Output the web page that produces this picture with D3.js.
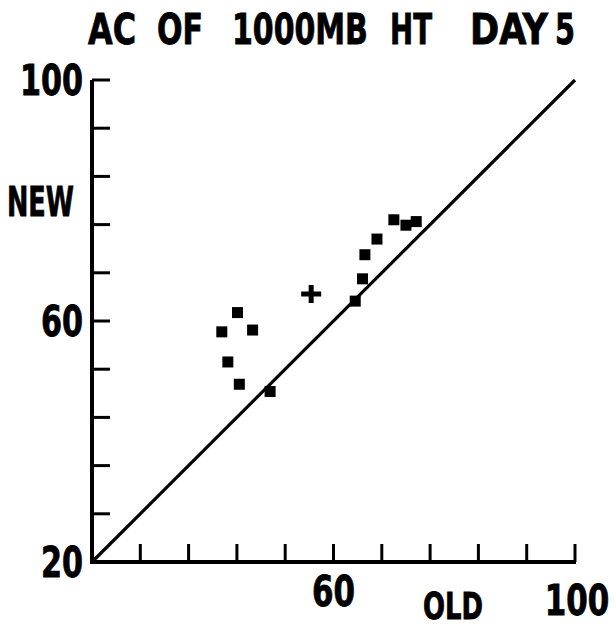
<!DOCTYPE html>
<html>
<head>
<meta charset="utf-8">
<script src="https://cdn.jsdelivr.net/npm/d3@7"></script>
<style>
  html, body { margin: 0; padding: 0; background: #fff; }
  svg { display: block; }
  text { font-family: "DejaVu Sans Condensed", "DejaVu Sans", sans-serif; font-weight: bold; fill: #000; stroke: #000; stroke-width: 0.8; }
</style>
</head>
<body>
<svg id="chart" width="616" height="629"></svg>
<script>
// AC of 1000mb height, day 5 : old vs new
const oldVals = [41.5, 44.1, 46.6, 42.5, 44.4, 49.5, 63.6, 64.8, 65.2, 67.2, 70.0, 72.0, 73.7];
const newVals = [58.2, 61.4, 58.5, 53.2, 49.5, 48.3, 63.3, 67.0, 71.0, 73.6, 76.8, 75.9, 76.5];
const plusOld = [56.3];
const plusNew = [64.5];
const tickVals = [20, 28, 36, 44, 52, 60, 68, 76, 84, 92, 100];
const yTickLabels = [100, 60, 20];
const xTickLabels = [60, 100];

const svg = d3.select('#chart');
const x = d3.scaleLinear().domain([20, 100]).range([92, 575]);
const y = d3.scaleLinear().domain([20, 100]).range([562, 80]);

// squeeze a label into a box [x0, x0+w] (plotter letters are narrow)
function label(str, x0, w, base, size) {
  const t = svg.append('text')
    .attr('x', 0).attr('y', 0)
    .attr('font-size', size)
    .text(str);
  const k = w / t.node().getComputedTextLength();
  t.attr('transform', `translate(${x0},${base}) scale(${k},1)`);
  return t;
}

// title, word by word
const titleWords = [
  { t: 'AC', x0: 88, x1: 136 },
  { t: 'OF', x0: 157, x1: 203 },
  { t: '1000MB', x0: 232, x1: 368 },
  { t: 'HT', x0: 390, x1: 432 },
  { t: 'DAY', x0: 470, x1: 548 },
  { t: '5', x0: 555, x1: 575 }
];
titleWords.forEach(d => label(d.t, d.x0, d.x1 - d.x0, 44, 42));

// axes
const g = svg.append('g');
g.append('line')
  .attr('x1', x(20)).attr('x2', x(20))
  .attr('y1', y(100)).attr('y2', y(20) + 2)
  .attr('stroke', '#000').attr('stroke-width', 4);
g.append('line')
  .attr('x1', x(20) - 2).attr('x2', x(100) + 1)
  .attr('y1', y(20)).attr('y2', y(20))
  .attr('stroke', '#000').attr('stroke-width', 4);

g.selectAll('.ytick')
  .data(tickVals.filter(v => v > 20))
  .enter().append('line')
  .attr('x1', x(20)).attr('x2', x(20) + 18)
  .attr('y1', d => y(d)).attr('y2', d => y(d))
  .attr('stroke', '#000').attr('stroke-width', 3);

g.selectAll('.xtick')
  .data(tickVals.filter(v => v > 20))
  .enter().append('line')
  .attr('x1', d => x(d)).attr('x2', d => x(d))
  .attr('y1', y(20)).attr('y2', y(20) - 18)
  .attr('stroke', '#000').attr('stroke-width', 3);

// diagonal
g.append('line')
  .attr('x1', x(20)).attr('y1', y(20))
  .attr('x2', x(100)).attr('y2', y(100))
  .attr('stroke', '#000').attr('stroke-width', 3.2);

// y labels (right edge at 83)
yTickLabels.forEach(v => {
  const w = String(v).length * 21;
  label(String(v), 83 - w, w, y(v) + 15, 42);
});
label('NEW', 7, 67, 216, 41);

// x labels
xTickLabels.forEach(v => {
  const w = String(v).length * 21.5;
  const cx = v === 100 ? x(v) + 2 : x(v);
  label(String(v), cx - w / 2, w, v === 100 ? 615 : 606, 42);
});
label('OLD', 423, 60, 619, 38);

// points
const pts = oldVals.map((v, i) => ({ o: v, n: newVals[i] }));
const s = 11;
svg.selectAll('.pt')
  .data(pts)
  .enter().append('rect')
  .attr('x', d => x(d.o) - s / 2)
  .attr('y', d => y(d.n) - s / 2)
  .attr('width', s).attr('height', s)
  .attr('fill', '#000');

const plus = plusOld.map((v, i) => ({ o: v, n: plusNew[i] }));
svg.selectAll('.plus')
  .data(plus)
  .enter().append('path')
  .attr('d', d => {
    const cx = x(d.o), cy = y(d.n);
    return `M${cx - 10},${cy}H${cx + 10}M${cx},${cy - 9}V${cy + 9}`;
  })
  .attr('stroke', '#000').attr('stroke-width', 5)
  .attr('fill', 'none');
</script>
</body>
</html>
